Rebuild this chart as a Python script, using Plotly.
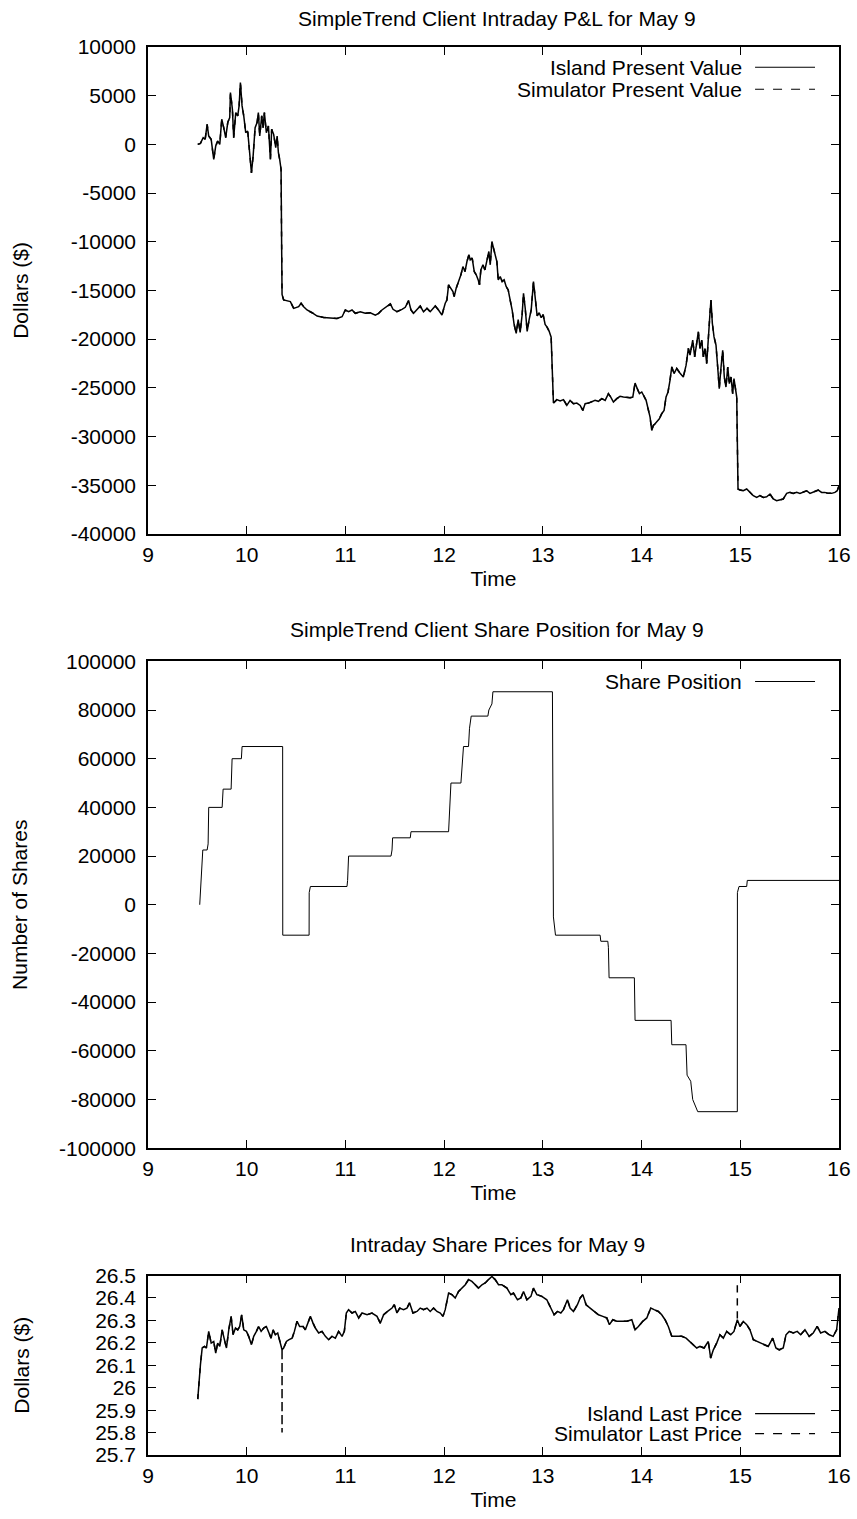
import plotly.graph_objects as go

# ---------------- DATA ----------------
# Panel 1: P&L (Island Present Value), time in hours
pv_time = [
    9.504, 9.531, 9.559, 9.579, 9.599, 9.615, 9.640, 9.666, 9.686, 9.706,
    9.727, 9.747, 9.767, 9.787, 9.808, 9.828, 9.835, 9.855, 9.868, 9.889,
    9.909, 9.923, 9.936, 9.953, 9.970, 9.990, 10.010, 10.030, 10.048, 10.065,
    10.085, 10.105, 10.118, 10.132, 10.152, 10.166, 10.179, 10.199, 10.220, 10.240,
    10.253, 10.273, 10.294, 10.308, 10.321, 10.334, 10.348, 10.352, 10.358, 10.366,
    10.374, 10.442, 10.476, 10.526, 10.551, 10.577, 10.611, 10.662, 10.713, 10.779,
    10.847, 10.915, 10.966, 10.999, 11.032, 11.067, 11.100, 11.151, 11.201, 11.252,
    11.303, 11.336, 11.370, 11.414, 11.455, 11.482, 11.522, 11.573, 11.606, 11.640,
    11.664, 11.690, 11.725, 11.758, 11.791, 11.826, 11.859, 11.910, 11.943, 11.978,
    12.011, 12.028, 12.045, 12.069, 12.089, 12.102, 12.122, 12.146, 12.170, 12.190,
    12.211, 12.231, 12.251, 12.264, 12.284, 12.305, 12.325, 12.345, 12.358, 12.372,
    12.393, 12.413, 12.433, 12.453, 12.467, 12.484, 12.500, 12.520, 12.534, 12.548,
    12.568, 12.588, 12.608, 12.629, 12.649, 12.662, 12.676, 12.689, 12.709, 12.730,
    12.750, 12.770, 12.790, 12.804, 12.821, 12.841, 12.861, 12.882, 12.905, 12.922,
    12.942, 12.963, 12.983, 13.003, 13.023, 13.044, 13.064, 13.084, 13.094, 13.099,
    13.107, 13.142, 13.175, 13.209, 13.243, 13.276, 13.310, 13.344, 13.378, 13.405,
    13.428, 13.462, 13.496, 13.529, 13.563, 13.597, 13.631, 13.664, 13.688, 13.715,
    13.749, 13.782, 13.816, 13.850, 13.884, 13.911, 13.934, 13.957, 13.978, 14.002,
    14.025, 14.046, 14.066, 14.086, 14.103, 14.119, 14.137, 14.160, 14.180, 14.204,
    14.228, 14.248, 14.268, 14.288, 14.306, 14.329, 14.356, 14.390, 14.423, 14.451,
    14.474, 14.491, 14.518, 14.538, 14.559, 14.575, 14.592, 14.609, 14.626, 14.643,
    14.660, 14.676, 14.693, 14.703, 14.717, 14.734, 14.754, 14.771, 14.787, 14.805,
    14.822, 14.838, 14.855, 14.873, 14.889, 14.906, 14.923, 14.936, 14.949, 14.964,
    14.970, 14.977, 14.997, 15.030, 15.065, 15.098, 15.132, 15.166, 15.199, 15.233,
    15.267, 15.301, 15.334, 15.368, 15.402, 15.435, 15.470, 15.503, 15.536, 15.571,
    15.604, 15.638, 15.672, 15.706, 15.739, 15.773, 15.790, 15.824, 15.857, 15.891,
    15.925, 15.959, 15.982, 16.000,
]
island_pv = [
    0, 100, 690, 520, 2060, 860, 520, -1550, -170, 340,
    0, 2580, 1720, 690, 2240, 2750, 5330, 3610, 690, 3270,
    2920, 3950, 6360, 3950, 2920, 1200, 1370, -520, -2920, -1200,
    1720, 2240, 3270, 860, 2920, 1720, 3270, 1200, 1890, -1550,
    1550, 1030, -340, 860, -860, -1550, -2580, -8000, -15400, -15700,
    -15980, -16150, -16840, -16670, -16320, -16670, -17010, -17290, -17630, -17770,
    -17800, -17870, -17700, -17010, -17190, -17010, -17350, -17190, -17350, -17290,
    -17530, -17350, -17010, -16730, -16390, -16940, -17190, -16940, -16730, -16050,
    -17010, -17350, -16940, -16600, -17190, -16840, -17190, -16600, -17010, -17530,
    -16320, -15980, -14430, -14770, -15120, -15640, -14770, -14090, -13400, -12550,
    -13060, -12030, -11340, -11860, -11680, -13060, -13400, -13920, -14430, -12890,
    -12370, -12890, -11860, -11000, -12370, -9970, -10650, -11340, -12030, -13920,
    -13580, -14090, -13920, -14610, -14950, -15640, -16320, -17010, -18500, -19400,
    -18000, -19300, -17500, -15300, -16800, -19200, -18000, -17000, -14100, -16000,
    -17600, -17300, -17800, -17500, -18500, -18800, -19200, -19800, -23000, -26300,
    -26570, -26220, -26360, -26220, -26810, -26290, -26630, -26570, -26810, -27320,
    -26630, -26570, -26460, -26290, -26390, -26110, -26290, -25600, -25950, -26460,
    -26110, -25880, -25950, -26020, -26020, -25950, -24510, -25090, -25600, -25430,
    -25950, -26290, -27150, -28010, -29380, -28870, -28690, -28350, -28180, -27660,
    -27320, -25950, -25430, -24230, -22860, -23540, -23020, -23500, -23890, -22680,
    -20960, -21650, -20100, -21830, -20440, -19250, -20960, -20100, -21830, -20960,
    -22510, -19420, -17350, -15980, -18380, -19770, -20620, -22860, -25090, -22860,
    -21140, -23890, -24920, -22860, -24570, -23890, -25600, -24050, -24920, -25950,
    -30410, -35390, -35500, -35570, -35390, -35740, -36080, -36260, -36080, -36260,
    -36190, -35910, -36420, -36600, -36530, -36420, -35840, -35740, -35840, -35740,
    -35840, -35740, -35570, -35840, -35740, -35570, -35500, -35740, -35740, -35840,
    -35840, -35740, -35570, -35050,
]
# Simulator present value reads identical to the Island curve in the picture
simulator_pv = list(island_pv)

# Panel 2: share position (corner points of the step line)
pos_time = [
    9.524, 9.541, 9.555, 9.599, 9.609, 9.615, 9.751, 9.761, 9.842, 9.852,
    9.946, 9.953, 10.364, 10.365, 10.632, 10.633, 10.645, 11.016, 11.022, 11.032,
    11.462, 11.472, 11.478, 11.657, 11.664, 12.045, 12.055, 12.069, 12.170, 12.183,
    12.196, 12.247, 12.257, 12.274, 12.443, 12.453, 12.484, 12.494, 13.097, 13.107,
    13.128, 13.580, 13.587, 13.658, 13.664, 13.671, 13.927, 13.934, 14.299, 14.306,
    14.450, 14.461, 14.498, 14.518, 14.541, 14.569, 14.970, 14.971, 14.987, 15.065,
    15.071, 16.000,
]
share_position = [
    0, 10000, 22500, 22500, 25000, 40000, 40000, 47500, 47500, 60000,
    60000, 65000, 65000, -12500, -12500, 5000, 7500, 7500, 10000, 20000,
    20000, 22500, 27500, 27500, 30000, 30000, 37500, 50000, 50000, 57500,
    65000, 65000, 72500, 77500, 77500, 80000, 82500, 87500, 87500, -5000,
    -12500, -12500, -15000, -15000, -17500, -30000, -30000, -47500, -47500, -57500,
    -57500, -70000, -72500, -80000, -82500, -85000, -85000, 5000, 7500, 7500,
    10000, 10000,
]

# Panel 3: last prices
price_time = [
    9.504, 9.514, 9.531, 9.549, 9.572, 9.592, 9.615, 9.640, 9.666, 9.686,
    9.706, 9.727, 9.751, 9.774, 9.795, 9.818, 9.842, 9.862, 9.886, 9.909,
    9.929, 9.949, 9.970, 9.997, 10.020, 10.048, 10.071, 10.098, 10.121, 10.146,
    10.172, 10.199, 10.223, 10.247, 10.267, 10.290, 10.314, 10.334, 10.358, 10.374,
    10.402, 10.429, 10.460, 10.483, 10.510, 10.536, 10.571, 10.594, 10.628, 10.645,
    10.672, 10.695, 10.729, 10.763, 10.797, 10.830, 10.864, 10.898, 10.931, 10.966,
    10.989, 11.009, 11.032, 11.067, 11.100, 11.134, 11.168, 11.219, 11.269, 11.320,
    11.353, 11.387, 11.427, 11.472, 11.495, 11.522, 11.549, 11.589, 11.623, 11.650,
    11.684, 11.725, 11.758, 11.791, 11.826, 11.859, 11.893, 11.927, 11.961, 11.988,
    12.011, 12.045, 12.079, 12.112, 12.146, 12.180, 12.214, 12.247, 12.281, 12.315,
    12.348, 12.383, 12.416, 12.449, 12.484, 12.517, 12.551, 12.585, 12.636, 12.676,
    12.702, 12.743, 12.777, 12.804, 12.838, 12.879, 12.905, 12.939, 12.990, 13.040,
    13.074, 13.114, 13.148, 13.182, 13.209, 13.249, 13.276, 13.310, 13.350, 13.378,
    13.405, 13.438, 13.479, 13.519, 13.563, 13.607, 13.648, 13.674, 13.709, 13.749,
    13.800, 13.850, 13.901, 13.934, 13.968, 14.012, 14.053, 14.093, 14.127, 14.170,
    14.204, 14.238, 14.271, 14.306, 14.356, 14.407, 14.451, 14.491, 14.524, 14.559,
    14.592, 14.633, 14.676, 14.700, 14.727, 14.761, 14.794, 14.828, 14.862, 14.903,
    14.936, 14.970, 14.997, 15.030, 15.065, 15.098, 15.132, 15.172, 15.207, 15.250,
    15.283, 15.328, 15.361, 15.395, 15.435, 15.463, 15.496, 15.536, 15.577, 15.611,
    15.655, 15.698, 15.739, 15.779, 15.814, 15.857, 15.901, 15.941, 15.976, 16.000,
]
island_price = [
    25.949, 26.020, 26.102, 26.177, 26.184, 26.177, 26.251, 26.199, 26.206, 26.154,
    26.199, 26.184, 26.258, 26.214, 26.177, 26.258, 26.318, 26.236, 26.266, 26.258,
    26.273, 26.325, 26.258, 26.251, 26.229, 26.192, 26.229, 26.251, 26.273, 26.251,
    26.266, 26.273, 26.244, 26.221, 26.258, 26.236, 26.244, 26.214, 26.169, 26.177,
    26.206, 26.214, 26.221, 26.251, 26.296, 26.273, 26.273, 26.258, 26.303, 26.318,
    26.288, 26.266, 26.244, 26.251, 26.229, 26.214, 26.229, 26.221, 26.251, 26.229,
    26.251, 26.333, 26.348, 26.333, 26.340, 26.311, 26.333, 26.325, 26.333, 26.318,
    26.288, 26.325, 26.340, 26.355, 26.370, 26.333, 26.355, 26.348, 26.355, 26.378,
    26.333, 26.340, 26.355, 26.348, 26.355, 26.340, 26.355, 26.340, 26.333, 26.318,
    26.348, 26.422, 26.415, 26.400, 26.429, 26.444, 26.459, 26.482, 26.474, 26.459,
    26.444, 26.459, 26.467, 26.482, 26.496, 26.482, 26.459, 26.459, 26.444, 26.415,
    26.422, 26.392, 26.400, 26.429, 26.392, 26.407, 26.444, 26.415, 26.407, 26.392,
    26.363, 26.325, 26.340, 26.333, 26.348, 26.392, 26.355, 26.340, 26.370, 26.400,
    26.415, 26.370, 26.355, 26.340, 26.325, 26.318, 26.311, 26.281, 26.303, 26.296,
    26.296, 26.296, 26.303, 26.258, 26.273, 26.296, 26.311, 26.355, 26.348, 26.340,
    26.325, 26.303, 26.273, 26.229, 26.229, 26.229, 26.221, 26.206, 26.192, 26.177,
    26.184, 26.177, 26.206, 26.132, 26.169, 26.199, 26.236, 26.221, 26.251, 26.236,
    26.251, 26.303, 26.273, 26.296, 26.281, 26.258, 26.214, 26.206, 26.199, 26.192,
    26.184, 26.221, 26.177, 26.169, 26.177, 26.236, 26.251, 26.244, 26.251, 26.236,
    26.258, 26.229, 26.244, 26.273, 26.244, 26.251, 26.236, 26.229, 26.258, 26.355,
]
# Simulator last price follows the Island price except two spikes
sim_spike_time = [10.358, 14.970]
sim_spike_price = [25.80, 26.47]

assert len(pv_time) == len(island_pv)
assert len(pos_time) == len(share_position)
assert len(price_time) == len(island_price)

# Tick labels
x_ticks = [9, 10, 11, 12, 13, 14, 15, 16]
x_ticktext = ["9", "10", "11", "12", "13", "14", "15", "16"]
pv_ticks = [10000, 5000, 0, -5000, -10000, -15000, -20000, -25000, -30000, -35000, -40000]
pv_ticktext = ["10000", "5000", "0", "-5000", "-10000", "-15000", "-20000", "-25000",
               "-30000", "-35000", "-40000"]
pos_ticks = [100000, 80000, 60000, 40000, 20000, 0, -20000, -40000, -60000, -80000, -100000]
pos_ticktext = ["100000", "80000", "60000", "40000", "20000", "0", "-20000", "-40000",
                "-60000", "-80000", "-100000"]
price_ticks = [26.5, 26.4, 26.3, 26.2, 26.1, 26.0, 25.9, 25.8, 25.7]
price_ticktext = ["26.5", "26.4", "26.3", "26.2", "26.1", "26", "25.9", "25.8", "25.7"]

# Build simulator price series (island path with spikes inserted)
sim_price_time, sim_price = [], []
for t, v in zip(price_time, island_price):
    sim_price_time.append(t)
    sim_price.append(v)
    if t in sim_spike_time:
        k = sim_spike_time.index(t)
        sim_price_time += [t, t]
        sim_price += [sim_spike_price[k], v]

# ---------------- LAYOUT HELPERS ----------------
W, H = 857, 1519
ML, MR, MT, MB = 147.5, 18, 47, 63.6
PW, PH = W - ML - MR, H - MT - MB


def fx(px):
    return (px - ML) / PW


def fy(py):
    return 1 - (py - MT) / PH


FONT = "Liberation Sans, Arial, Helvetica, sans-serif"
FS = 21
DASH = "5px,8px"

fig = go.Figure()
line_solid = dict(color="black", width=1.5)
line_dash = dict(color="black", width=1.5, dash=DASH)

fig.add_trace(go.Scatter(x=pv_time, y=island_pv, mode="lines", line=line_solid,
                         name="Island Present Value", xaxis="x", yaxis="y", showlegend=False))
fig.add_trace(go.Scatter(x=pv_time, y=simulator_pv, mode="lines", line=line_dash,
                         name="Simulator Present Value", xaxis="x", yaxis="y", showlegend=False))
fig.add_trace(go.Scatter(x=pos_time, y=share_position, mode="lines", line=dict(color="black", width=1),
                         name="Share Position", xaxis="x2", yaxis="y2", showlegend=False))
fig.add_trace(go.Scatter(x=price_time, y=island_price, mode="lines", line=line_solid,
                         name="Island Last Price", xaxis="x3", yaxis="y3", showlegend=False))
fig.add_trace(go.Scatter(x=sim_price_time, y=sim_price, mode="lines", line=line_dash,
                         name="Simulator Last Price", xaxis="x3", yaxis="y3", showlegend=False))

axis_common = dict(showline=True, linecolor="black", linewidth=1.5, mirror="ticks",
                   ticks="inside", ticklen=8, tickwidth=1.2, tickcolor="black",
                   showgrid=False, zeroline=False, automargin=False,
                   tickfont=dict(family=FONT, size=FS, color="black"))


def xaxis(anchor):
    return dict(axis_common, range=[9, 16], tickvals=x_ticks, ticktext=x_ticktext,
                anchor=anchor, domain=[0, 1], ticklabelstandoff=1,
                title=dict(text="Time", font=dict(family=FONT, size=FS, color="black"), standoff=6))


def yaxis(anchor, dom, rng, tv, tt, title, standoff):
    return dict(axis_common, range=rng, tickvals=tv, ticktext=tt, anchor=anchor,
                domain=dom, ticklabelstandoff=6,
                title=dict(text=title, font=dict(family=FONT, size=FS, color="black"),
                           standoff=standoff))


fig.update_layout(
    width=W, height=H,
    margin=dict(l=ML, r=MR, t=MT, b=MB, autoexpand=False),
    paper_bgcolor="white", plot_bgcolor="white",
    font=dict(family=FONT, size=FS, color="black"),
    xaxis=xaxis("y"),
    yaxis=yaxis("x", [fy(534), 1.0], [-40000, 10000], pv_ticks, pv_ticktext, "Dollars ($)", 36),
    xaxis2=xaxis("y2"),
    yaxis2=yaxis("x2", [fy(1148.5), fy(661.5)], [-100000, 100000], pos_ticks, pos_ticktext,
                 "Number of Shares", 26),
    xaxis3=xaxis("y3"),
    yaxis3=yaxis("x3", [0, fy(1275.9)], [25.7, 26.5], price_ticks, price_ticktext,
                 "Dollars ($)", 60),
    showlegend=False,
)

annotations = []
shapes = []
titles = [("SimpleTrend Client Intraday P&L for May 9", 18.5),
          ("SimpleTrend Client Share Position for May 9", 630),
          ("Intraday Share Prices for May 9", 1245)]
for text, py in titles:
    annotations.append(dict(text=text, x=fx(497), y=fy(py), xref="paper", yref="paper",
                            xanchor="center", yanchor="middle", showarrow=False,
                            font=dict(family=FONT, size=FS, color="black")))

# Gnuplot-style keys (text right-aligned, sample line on the right)
legend_rows = [("Island Present Value", 67.3, None),
               ("Simulator Present Value", 89.3, DASH),
               ("Share Position", 681.7, None),
               ("Island Last Price", 1414, None),
               ("Simulator Last Price", 1434, DASH)]
for text, py, dash in legend_rows:
    annotations.append(dict(text=text, x=fx(744), y=fy(py), xref="paper", yref="paper",
                            xanchor="right", yanchor="middle", showarrow=False,
                            font=dict(family=FONT, size=FS, color="black")))
    ln = dict(color="black", width=1.1)
    if dash:
        ln["dash"] = "dash"
    shapes.append(dict(type="line", xref="paper", yref="paper",
                       x0=fx(755), x1=fx(815), y0=fy(py), y1=fy(py), line=ln))

fig.update_layout(annotations=annotations, shapes=shapes)
fig.write_html("out.html", config={"displayModeBar": False},
               post_script="document.body.style.margin='0px';")
